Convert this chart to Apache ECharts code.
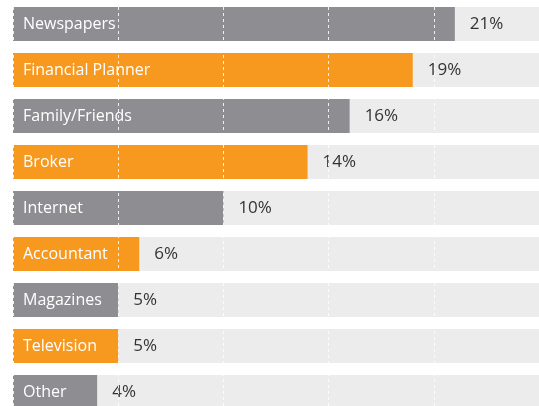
<!DOCTYPE html>
<html>
<head>
<meta charset="utf-8">
<script src="https://cdn.jsdelivr.net/npm/echarts@6/dist/echarts.min.js"></script>
<style>
	html, body { margin: 0; padding: 0; background: #fff; }
	#chart { width: 539px; height: 406px; }
</style>
</head>
<body>
<div id="chart"></div>
<script>
	// sources of financial advice, percent of respondents
	var categories = ['Newspapers', 'Financial Planner', 'Family/Friends', 'Broker', 'Internet', 'Accountant', 'Magazines', 'Television', 'Other'];
	var shares = [21, 19, 16, 14, 10, 6, 5, 5, 4];
	var barColors = ['#8e8d91', '#f7991f'];

	var chart = echarts.init(document.getElementById('chart'));

	var option = {
		animation: false,
		grid: {
			left: 13,
			right: 0,
			top: 1,
			height: 414,
			outerBoundsMode: 'none'
		},
		xAxis: {
			type: 'value',
			min: 0,
			max: 25,
			interval: 5,
			z: 3,
			axisLabel: { show: false },
			axisLine: { show: false },
			axisTick: { show: false },
			splitLine: {
				show: true,
				lineStyle: {
					color: 'rgba(255,255,255,0.85)',
					width: 1,
					type: [3, 3]
				}
			}
		},
		yAxis: {
			type: 'category',
			inverse: true,
			data: categories,
			z: 4,
			axisLine: { show: false },
			axisTick: { show: false },
			axisLabel: {
				inside: true,
				margin: 10,
				color: '#fff',
				fontFamily: 'Open Sans',
				fontSize: 16,
				padding: [2, 0, 0, 0]
			}
		},
		series: [{
			type: 'bar',
			barWidth: 34,
			data: shares,
			showBackground: true,
			backgroundStyle: { color: '#ebeceb' },
			itemStyle: {
				color: function (p) {
					return barColors[p.dataIndex % 2];
				}
			},
			label: {
				show: true,
				position: 'right',
				distance: 15,
				formatter: '{c}%',
				color: '#333',
				fontFamily: 'Open Sans',
				fontSize: 17
			}
		}]
	};

	chart.setOption(option);
</script>
</body>
</html>
